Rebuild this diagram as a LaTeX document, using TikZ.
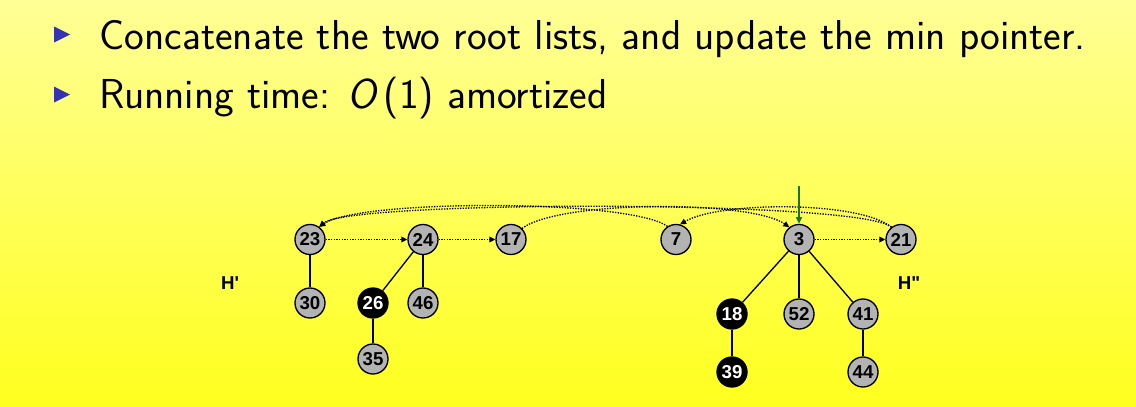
\documentclass[tikz,border=0pt]{standalone}
\usepackage{fontspec}
\setsansfont{Latin Modern Sans}
\newfontfamily\slsans[FakeSlant=0.2]{Latin Modern Sans}
\newfontfamily\nodefont{Liberation Sans}
\usetikzlibrary{arrows.meta}
\definecolor{nodegray}{RGB}{179,179,179}
\definecolor{bulletblue}{RGB}{51,51,179}
\definecolor{bgtop}{RGB}{255,255,150}
\definecolor{bgbot}{RGB}{255,255,30}
\definecolor{ptrgreen}{RGB}{20,120,20}
\tikzset{
  heapnode/.style={circle, draw=black, line width=1pt, minimum size=22.5pt, inner sep=0pt,
    fill=nodegray, text=black, font=\nodefont\bfseries\fontsize{14}{14}\selectfont},
  marked/.style={heapnode, fill=black, text=white},
  treeedge/.style={line width=1pt, black},
  ptr/.style={line width=1pt, dash pattern=on 1pt off 1pt,
    -{Triangle[length=4.5pt,width=4.2pt]}},
  minptr/.style={line width=1pt, ptrgreen, -{Triangle[length=5pt,width=4.5pt]}},
  heaplabel/.style={font=\nodefont\bfseries\fontsize{14}{14}\selectfont},
  bullettext/.style={anchor=base west, font=\sffamily\fontsize{31.4}{31.4}\selectfont},
}
\begin{document}
\begin{tikzpicture}[x=0.75pt,y=-0.75pt]
\shade[top color=bgtop, bottom color=bgbot] (0,0) rectangle (1136,407);
\useasboundingbox (0,0) rectangle (1136,407);

% bullets
\fill[bulletblue] (54,26.5) -- (70,34.5) -- (54,42.5) -- cycle;
\fill[bulletblue] (54,86.5) -- (70,94.5) -- (54,102.5) -- cycle;
\node[bullettext] (line1) at (95,49) {Concatenate the two root lists, and update the min pointer.};
\node[bullettext] (line2) at (95,108) {Running time: {\slsans O}\,(1) amortized};

% heap nodes
\node[heapnode] (n23) at (310,239.5) {23};
\node[heapnode] (n24) at (423,239.5) {24};
\node[heapnode] (n17) at (511,239.5) {17};
\node[heapnode] (n7)  at (676,239.5) {7};
\node[heapnode] (n3)  at (799,239.5) {3};
\node[heapnode] (n21) at (901,239.5) {21};
\node[heapnode] (n30) at (310,303) {30};
\node[marked]   (n26) at (373,303) {26};
\node[heapnode] (n46) at (423,303) {46};
\node[heapnode] (n35) at (373,359) {35};
\node[marked]   (n18) at (732,314) {18};
\node[heapnode] (n52) at (799,314) {52};
\node[heapnode] (n41) at (863,314) {41};
\node[marked]   (n39) at (732,372) {39};
\node[heapnode] (n44) at (863,372) {44};

\node[heaplabel] (hp)  at (230,283) {H'};
\node[heaplabel] (hpp) at (909,283) {H"};

% tree edges
\draw[treeedge] (n23) -- (n30);
\draw[treeedge] (n24) -- (n26);
\draw[treeedge] (n24) -- (n46);
\draw[treeedge] (n26) -- (n35);
\draw[treeedge] (n3) -- (n18);
\draw[treeedge] (n3) -- (n52);
\draw[treeedge] (n3) -- (n41);
\draw[treeedge] (n18) -- (n39);
\draw[treeedge] (n41) -- (n44);

% root list pointers
\draw[ptr] (n23) -- (n24);
\draw[ptr] (n24) -- (n17);
\draw[ptr] (n3) -- (n21);
\draw[ptr] (n17.45) .. controls (560,200) and (750,200) .. (n3.128);
\draw[ptr] (n7.123) .. controls (630,199) and (360,199) .. (n23.54);
\draw[ptr] (n21.128) .. controls (862,200) and (350,200) .. (n23.54);
\draw[ptr] (n21.128) .. controls (860,201) and (720,201) .. (n7.75);

% min pointer
\coordinate (mintop) at (799,186);
\draw[minptr] (mintop) -- (n3.north);
\end{tikzpicture}
\end{document}
